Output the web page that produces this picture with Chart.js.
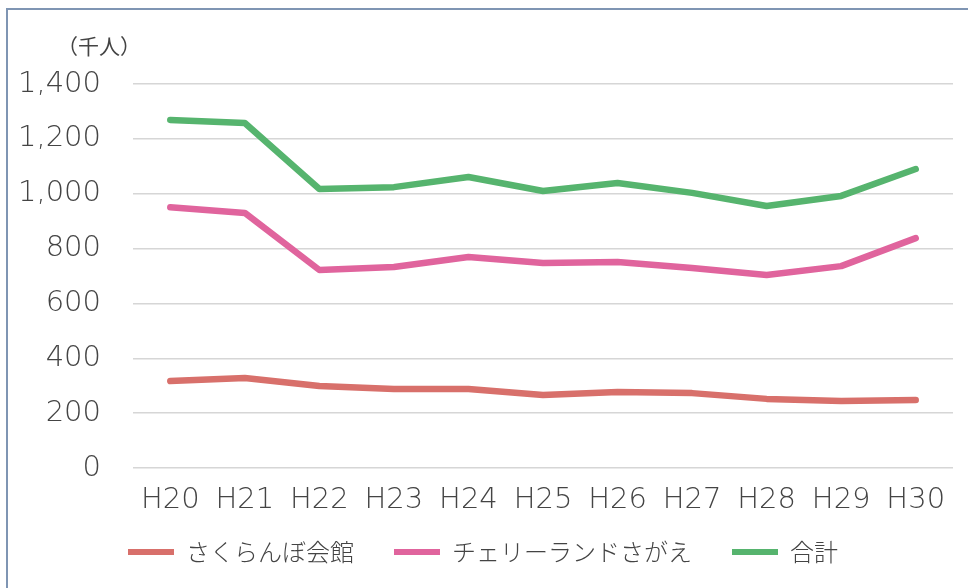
<!DOCTYPE html>
<html lang="ja">
<head>
<meta charset="utf-8">
<script src="https://cdn.jsdelivr.net/npm/chart.js@4.4.0/dist/chart.umd.min.js"></script>
<style>
  body { margin: 0; background: #fff; }
  #wrap { position: relative; width: 968px; height: 588px; }
  #frame { position: absolute; left: 6px; top: 8px; width: 972px; height: 590px;
           border: 2px solid #7f95b3; box-sizing: border-box; pointer-events: none; }
  canvas { position: absolute; left: 0; top: 0; }
</style>
</head>
<body>
<div id="wrap">
  <canvas id="chart" width="968" height="588"></canvas>
  <div id="frame"></div>
</div>
<script>
const years = ['H20', 'H21', 'H22', 'H23', 'H24', 'H25', 'H26', 'H27', 'H28', 'H29', 'H30'];
const sakuranbo = [317, 328, 299, 288, 288, 266, 277, 273, 252, 244, 248];
const cherryland = [951, 930, 722, 733, 769, 747, 751, 729, 704, 736, 838];
const total = [1269, 1258, 1017, 1024, 1061, 1010, 1039, 1003, 955, 992, 1090];
const yTicks = [0, 200, 400, 600, 800, 1000, 1200, 1400];

const tickFont = '"DejaVu Sans", "Liberation Sans", sans-serif';
const jpFont = '"Noto Sans CJK JP", "Noto Sans", sans-serif';
const textColor = '#444';

// x axis is squeezed so the legend sits close; let its labels draw past the box
const unclipX = {
  id: 'unclipX',
  afterLayout(chart) {
    chart.scales.x.bottom += 30;
  }
};

// unit label "(千人)" above the y axis
const unitLabel = {
  id: 'unitLabel',
  afterDraw(chart) {
    const ctx = chart.ctx;
    const area = chart.chartArea;
    ctx.save();
    ctx.font = '21px ' + jpFont;
    ctx.fillStyle = textColor;
    ctx.textAlign = 'left';
    ctx.textBaseline = 'middle';
    ctx.fillText('（千人）', area.left - 76, area.top - 38);
    ctx.restore();
  }
};

function series(label, data, color) {
  return {
    label,
    data,
    borderColor: color,
    backgroundColor: color,
    borderWidth: 6.5,
    pointRadius: 0,
    tension: 0,
    borderCapStyle: 'round',
    borderJoinStyle: 'round'
  };
}

new Chart(document.getElementById('chart'), {
  type: 'line',
  data: {
    labels: years,
    datasets: [
      series('さくらんぼ会館', sakuranbo, '#d8706b'),
      series('チェリーランドさがえ', cherryland, '#e0649d'),
      series('合計', total, '#56b46e')
    ]
  },
  plugins: [unclipX, unitLabel],
  options: {
    responsive: false,
    animation: false,
    layout: { padding: { left: 13, right: 15, top: 84, bottom: 14 } },
    scales: {
      x: {
        offset: true,
        grid: { display: false },
        border: { display: false },
        afterFit: axis => { axis.height = 32; },
        ticks: { color: textColor, font: { family: tickFont, size: 29, weight: 200 }, padding: 7, maxRotation: 0 }
      },
      y: {
        min: 0,
        max: 1400,
        afterBuildTicks: axis => { axis.ticks = yTicks.map(v => ({ value: v })); },
        afterFit: axis => { axis.width = 120; },
        grid: { color: '#d6d6d6', lineWidth: 1.5, tickLength: 0 },
        border: { display: false },
        ticks: {
          color: textColor,
          font: { family: tickFont, size: 29, weight: 200 },
          padding: 32,
          callback: v => v.toLocaleString('en-US')
        }
      }
    },
    plugins: {
      tooltip: { enabled: false },
      legend: {
        position: 'bottom',
        labels: {
          color: textColor,
          font: { family: jpFont, size: 24, weight: 300 },
          boxWidth: 46,
          boxHeight: 6,
          padding: 40,
          generateLabels: chart => Chart.defaults.plugins.legend.labels.generateLabels(chart)
            .map(item => Object.assign(item, { lineWidth: 0 }))
        }
      }
    }
  }
});
</script>
</body>
</html>
